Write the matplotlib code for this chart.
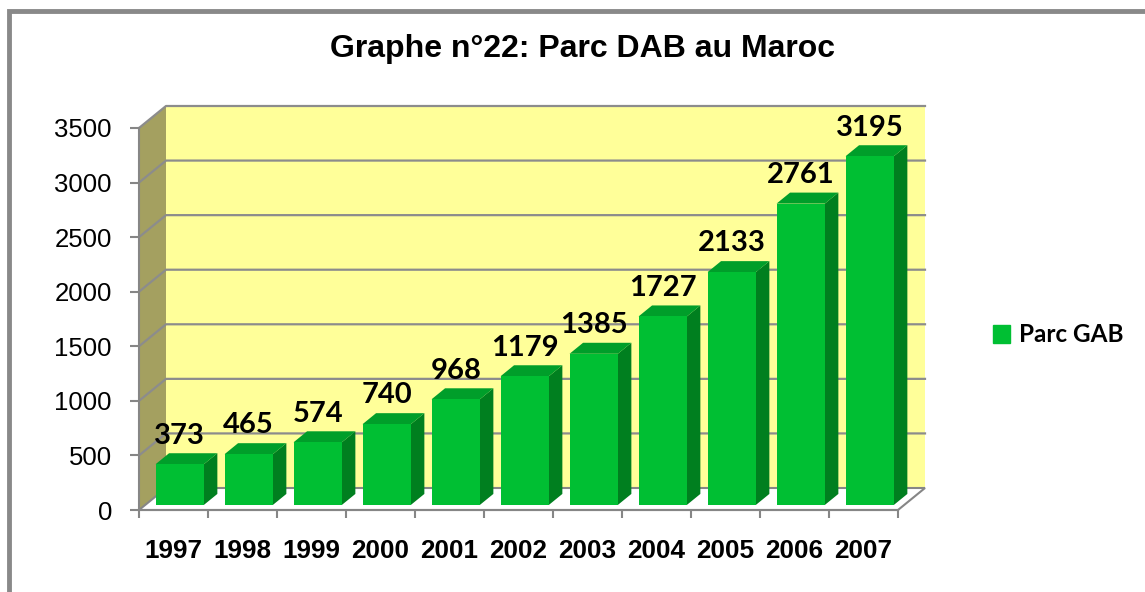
"""Excel-style 3D column chart: Parc DAB au Maroc (1997-2007)."""

import matplotlib

matplotlib.use("Agg")
import matplotlib.pyplot as plt
import numpy as np
from matplotlib.lines import Line2D
from matplotlib.patches import Patch, Polygon, Rectangle

years = ["1997", "1998", "1999", "2000", "2001", "2002", "2003", "2004", "2005", "2006", "2007"]
parc_gab = [373, 465, 574, 740, 968, 1179, 1385, 1727, 2133, 2761, 3195]
y_ticks = [0, 500, 1000, 1500, 2000, 2500, 3000, 3500]
title = "Graphe n°22: Parc DAB au Maroc"
series_name = "Parc GAB"

W, H = 1145, 592
YMAX = 3500

# colours
FRONT = "#00BF33"
TOP = "#009E2A"
SIDE = "#007F1F"
BACK_WALL = "#FFFF99"
SIDE_WALL = "#A4A060"
GRID = "#8C8C8C"
AXIS = "#868686"

fig = plt.figure(figsize=(W / 100, H / 100), dpi=100)
fig.patch.set_facecolor("white")

# front plane of the 3D box
ax = fig.add_axes([139 / W, 82 / H, 759 / W, 382 / H])
ax.set_xlim(-0.5, len(years) - 0.5)
ax.set_ylim(0, YMAX)
ax.set_facecolor("none")

# depth of the box in data units
px_x = (len(years)) / 759.0
px_y = YMAX / 382.0
DX = 27 * px_x
DY = 22 * px_y

x0, x1 = -0.5, len(years) - 0.5

# walls
ax.add_patch(Polygon([(x0, 0), (x0 + DX, DY), (x0 + DX, YMAX + DY), (x0, YMAX)],
                     closed=True, fc=SIDE_WALL, ec="none", clip_on=False, zorder=0.5))
ax.add_patch(Polygon([(x0 + DX, DY), (x1 + DX, DY), (x1 + DX, YMAX + DY), (x0 + DX, YMAX + DY)],
                     closed=True, fc=BACK_WALL, ec="none", clip_on=False, zorder=0.5))
ax.add_patch(Polygon([(x0, 0), (x1, 0), (x1 + DX, DY), (x0 + DX, DY)],
                     closed=True, fc="white", ec=AXIS, lw=1.5, clip_on=False, zorder=0.6))

# gridlines on walls
for t in y_ticks[1:]:
    ax.add_line(Line2D([x0, x0 + DX, x1 + DX], [t, t + DY, t + DY], color=GRID, lw=1.6,
                       clip_on=False, zorder=0.7))

# bars
f0, f1 = 0.23, 0.73
bw = 0.70
for i, v in enumerate(parc_gab):
    a, b = f0 * DY, f1 * DY
    bx0 = i - bw / 2 + f0 * DX
    bx1 = bx0 + bw
    dd = (f1 - f0) * DX
    ax.add_patch(Polygon([(bx1, a), (bx1 + dd, b), (bx1 + dd, v + b), (bx1, v + a)],
                         closed=True, fc=SIDE, ec="none", clip_on=False, zorder=2))
    ax.add_patch(Polygon([(bx0, v + a), (bx1, v + a), (bx1 + dd, v + b), (bx0 + dd, v + b)],
                         closed=True, fc=TOP, ec="none", clip_on=False, zorder=2))
    ax.add_patch(Rectangle((bx0, a), bw, v, fc=FRONT, ec="none", clip_on=False, zorder=2))
    ax.annotate(str(v), xy=((bx0 + bx1) / 2, v + b), xytext=(0, 7), textcoords="offset points",
                ha="center", va="baseline", fontsize=21, fontweight="bold", family="Lato",
                color="black", zorder=5, annotation_clip=False)

# axes, ticks
for s in ["top", "right"]:
    ax.spines[s].set_visible(False)
for s in ["left", "bottom"]:
    ax.spines[s].set_color(AXIS)
    ax.spines[s].set_linewidth(1.5)
    ax.spines[s].set_zorder(3)

ax.set_yticks(y_ticks)
ax.set_yticklabels([str(t) for t in y_ticks], fontsize=18.5, family="Liberation Sans")
ax.tick_params(axis="y", length=6.5, width=1.5, color=AXIS, pad=13)

ax.set_xticks(np.arange(len(years) + 1) - 0.5)
ax.set_xticklabels([])
ax.tick_params(axis="x", which="major", length=6, width=1.5, color=AXIS)
ax.set_xticks(np.arange(len(years)), minor=True)
ax.set_xticklabels(years, minor=True, fontsize=18.8, fontweight="bold", family="Liberation Sans")
ax.tick_params(axis="x", which="minor", length=0, pad=21)

fig.text(582.5 / W, (H - 57) / H, title, ha="center", va="baseline", fontsize=23,
         fontweight="bold", family="Liberation Sans")

leg = fig.legend(handles=[Patch(color=FRONT)], labels=[series_name], loc="center left",
                 bbox_to_anchor=(993 / W, (H - 335) / H), bbox_transform=fig.transFigure,
                 frameon=False, handlelength=0.7, handleheight=0.7, handletextpad=0.35,
                 borderpad=0, borderaxespad=0,
                 prop={"family": "Lato", "weight": "bold", "size": 17.5})

# outer chart border
fig.add_artist(Rectangle((8.5 / W, -0.1), 1.5, (H - 10.5) / H + 0.1, transform=fig.transFigure,
                         fill=False, ec="#898989", lw=3.5))

fig.savefig("out.png", dpi=100)
